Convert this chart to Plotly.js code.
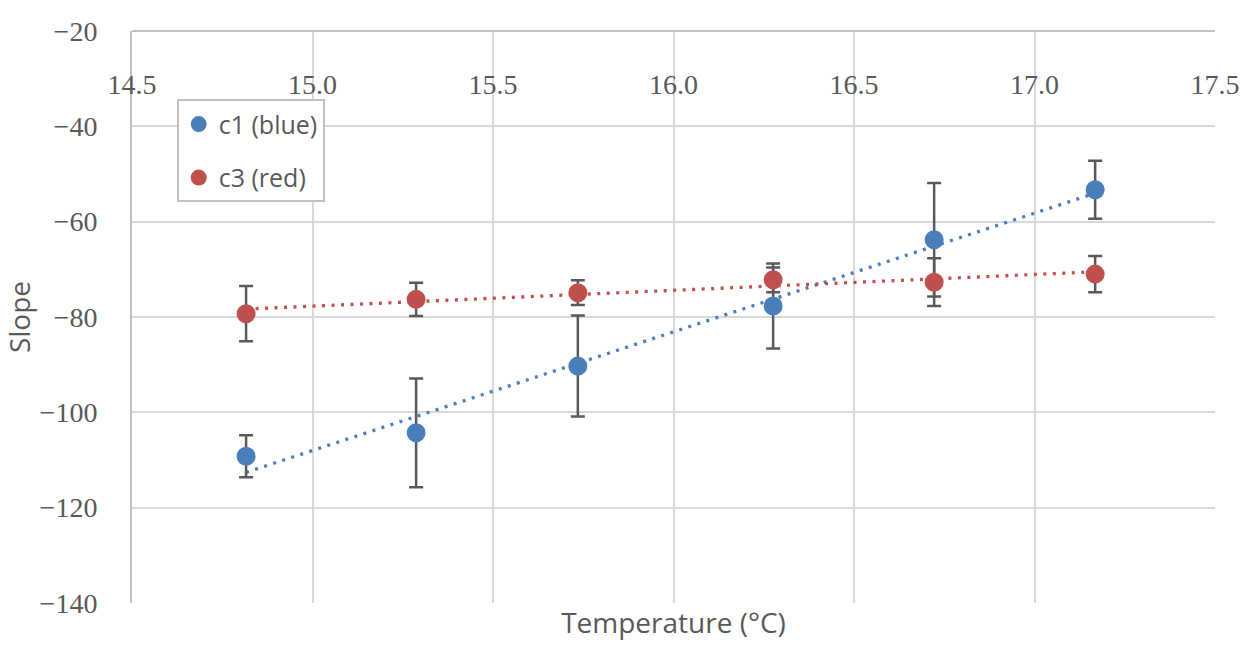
<!doctype html>
<html>
<head>
  <meta charset="utf-8">
  <title>Slope vs temperature</title>
  <script src="https://cdn.plot.ly/plotly-3.0.1.min.js"></script>
  <style>
    body { margin: 0; background: #fff; }
    #chart { width: 1257px; height: 658px; }
  </style>
</head>
<body>
  <div id="chart"></div>
  <script>
    // values
    var temperature = [14.816, 15.287, 15.735, 16.276, 16.722, 17.168];
    var c1Slope = [-109.2, -104.3, -90.3, -77.7, -63.8, -53.3];
    var c1Err = [4.4, 11.4, 10.6, 8.9, 11.9, 6.1];
    var c3Slope = [-79.3, -76.3, -74.9, -72.2, -72.7, -71.0];
    var c3Err = [5.8, 3.5, 2.6, 2.6, 5.0, 3.8];
    var seriesNames = ['c1 (blue)', 'c3 (red)'];

    var blue = '#4a7ebb';
    var red = '#c0504d';
    var grey = '#595959';

    // linear trendline (least squares), like the spreadsheet does
    function trend(x, y) {
      var n = x.length;
      var mx = x.reduce((a, b) => a + b) / n;
      var my = y.reduce((a, b) => a + b) / n;
      var sxy = 0, sxx = 0;
      for (var i = 0; i < n; i++) {
        sxy += (x[i] - mx) * (y[i] - my);
        sxx += (x[i] - mx) * (x[i] - mx);
      }
      var k = sxy / sxx;
      var ends = [x[0], x[n - 1]];
      return { x: ends, y: ends.map(v => my + k * (v - mx)) };
    }

    function trendTrace(x, y, color) {
      var t = trend(x, y);
      return {
        x: t.x, y: t.y, mode: 'lines', type: 'scatter',
        line: { color: color, width: 3.3, dash: '3px,6.5px' },
        hoverinfo: 'skip', showlegend: false
      };
    }

    function pointTrace(y, err, color, name, group) {
      return {
        x: temperature, y: y, mode: 'markers', type: 'scatter',
        name: name, legendgroup: group,
        marker: { color: color, size: 19 },
        error_y: { type: 'data', array: err, visible: true,
                   color: grey, thickness: 2.5, width: 7 }
      };
    }

    var data = [
      trendTrace(temperature, c1Slope, blue),
      trendTrace(temperature, c3Slope, red),
      pointTrace(c1Slope, c1Err, blue, seriesNames[0], 'a'),
      pointTrace(c3Slope, c3Err, red, seriesNames[1], 'b'),
      // empty trace so the bottom axis (title only) is drawn
      { x: [], y: [], xaxis: 'x2', type: 'scatter', showlegend: false }
    ];

    var tickFont = { family: 'Liberation Serif', size: 28, color: grey };
    var titleFont = { family: 'Open Sans', size: 28, color: grey };

    var layout = {
      width: 1257, height: 658,
      margin: { l: 132, r: 42, t: 31, b: 55 },
      paper_bgcolor: '#fff', plot_bgcolor: '#fff',
      showlegend: true,
      legend: {
        x: 0.0413, y: 0.8806, xanchor: 'left', yanchor: 'top',
        bordercolor: '#bfbfbf', borderwidth: 2, bgcolor: '#fff',
        font: { family: 'Open Sans', size: 25, color: grey },
        tracegroupgap: 18, entrywidth: 112
      },
      // value axis crosses at the top; its labels sit just under the line
      xaxis: {
        range: [14.5, 17.5], dtick: 0.5, tick0: 14.5, tickformat: '.1f',
        anchor: 'free', position: 1, side: 'bottom',
        ticks: '', ticklabelstandoff: 28,
        showgrid: true, gridcolor: '#d9d9d9', gridwidth: 2,
        showline: true, linecolor: '#bfbfbf', linewidth: 2,
        zeroline: false, tickfont: tickFont, fixedrange: true
      },
      xaxis2: {
        overlaying: 'x', anchor: 'y', side: 'bottom',
        range: [14.5, 17.5], showticklabels: false, showgrid: false,
        zeroline: false, showline: false,
        title: { text: 'Temperature (°C)', standoff: 10, font: titleFont }
      },
      yaxis: {
        range: [-140, -20], dtick: 20, ticks: '', ticklabelstandoff: 27,
        showgrid: true, gridcolor: '#d9d9d9', gridwidth: 2,
        showline: true, linecolor: '#bfbfbf', linewidth: 2,
        zeroline: false, tickfont: tickFont, fixedrange: true,
        title: { text: 'Slope', standoff: 14, font: titleFont }
      }
    };

    Plotly.newPlot('chart', data, layout, { displayModeBar: false, staticPlot: true });
  </script>
</body>
</html>
